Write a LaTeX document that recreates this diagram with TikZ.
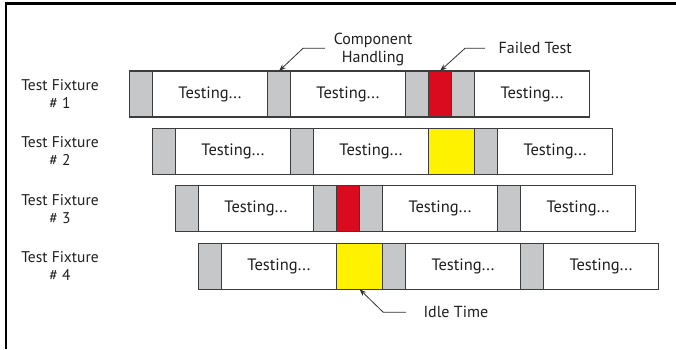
\documentclass[tikz,border=0pt]{standalone}
\usepackage{fontspec}
\setmainfont{PT Sans}
\usetikzlibrary{arrows.meta}
\definecolor{blkgray}{HTML}{C6C7C9}
\definecolor{failred}{HTML}{DA0A1F}
\definecolor{idleyel}{HTML}{FFF200}
\definecolor{edge}{HTML}{3C3C3C}
\tikzset{
  seg/.style={draw=edge, line width=1.1pt, minimum height=46pt, inner sep=0pt, outer sep=0pt, anchor=north west, font=\fontsize{16.5}{18}\selectfont, text=black!88},
  hand/.style={seg, fill=blkgray, minimum width=23pt},
  test/.style={seg, fill=white, minimum width=115pt},
  fail/.style={seg, fill=failred, minimum width=23pt},
  idle/.style={seg, fill=idleyel, minimum width=46pt},
  fixlabel/.style={align=center, font=\fontsize{15.5}{18}\selectfont, text=black!88},
  note/.style={align=center, font=\fontsize{16}{17.3}\selectfont, text=black!88},
  pointer/.style={draw=black!80, line width=0.8pt, -{Stealth[length=7pt,width=5pt]}}
}
\begin{document}
\begin{tikzpicture}[x=1pt,y=-1pt]
\useasboundingbox (0,0) rectangle (676,349);
% frame
\draw[line width=2.7pt] (6,349) -- (6,3.2) -- (676,3.2);

% row 1
\node[hand] (a1) at (129.5,71) {};
\node[test] (a2) at (a1.north east) {Testing...};
\node[hand] (a3) at (a2.north east) {};
\node[test] (a4) at (a3.north east) {Testing...};
\node[hand] (a5) at (a4.north east) {};
\node[fail] (a6) at (a5.north east) {};
\node[hand] (a7) at (a6.north east) {};
\node[test] (a8) at (a7.north east) {Testing...};

% row 2
\node[hand] (b1) at (152.5,128.4) {};
\node[test] (b2) at (b1.north east) {Testing...};
\node[hand] (b3) at (b2.north east) {};
\node[test] (b4) at (b3.north east) {Testing...};
\node[idle] (b5) at (b4.north east) {};
\node[hand] (b6) at (b5.north east) {};
\node[test] (b7) at (b6.north east) {Testing...};

% row 3
\node[hand] (c1) at (175.5,185.8) {};
\node[test] (c2) at (c1.north east) {Testing...};
\node[hand] (c3) at (c2.north east) {};
\node[fail] (c4) at (c3.north east) {};
\node[hand] (c5) at (c4.north east) {};
\node[test] (c6) at (c5.north east) {Testing...};
\node[hand] (c7) at (c6.north east) {};
\node[test] (c8) at (c7.north east) {Testing...};

% row 4
\node[hand] (d1) at (198.5,243.2) {};
\node[test] (d2) at (d1.north east) {Testing...};
\node[idle] (d3) at (d2.north east) {};
\node[hand] (d4) at (d3.north east) {};
\node[test] (d5) at (d4.north east) {Testing...};
\node[hand] (d6) at (d5.north east) {};
\node[test] (d7) at (d6.north east) {Testing...};

% fixture labels
\node[fixlabel] (f1) at (60,94) {Test Fixture\\\# 1};
\node[fixlabel] (f2) at (60,151.4) {Test Fixture\\\# 2};
\node[fixlabel] (f3) at (60,208.8) {Test Fixture\\\# 3};
\node[fixlabel] (f4) at (60,266.2) {Test Fixture\\\# 4};

% annotations
\node[note] (ch) at (373,49.5) {Component\\Handling};
\node[note, anchor=west] (ft) at (495,48) {Failed Test};
\node[note, anchor=west] (it) at (420,312) {Idle Time};
\coordinate (chA) at (325,48.3);
\coordinate (ftA) at (485,48.3);
\coordinate (itA) at (406,312.3);
\draw[pointer] (chA) -- (303,48.3) -- (a3.north);
\draw[pointer] (ftA) -- (465,48.3) -- (a6.north);
\draw[pointer] (itA) -- (383.3,312.3) -- (d3.south);
\end{tikzpicture}
\end{document}
